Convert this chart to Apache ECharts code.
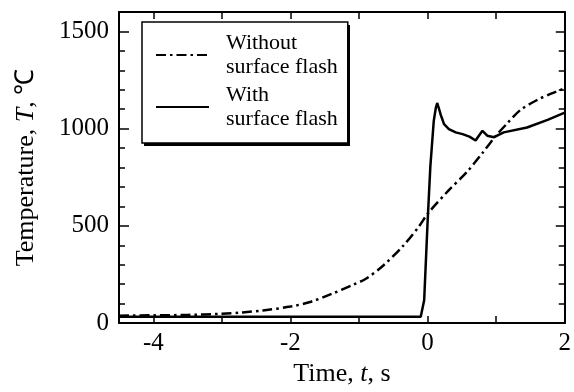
<!DOCTYPE html>
<html lang="en">
  <head>
    <meta charset="utf-8" />
    <title>Temperature with and without surface flash</title>
    <script src="https://cdn.jsdelivr.net/npm/echarts@6/dist/echarts.min.js"></script>
  </head>
  <style>
    * {
      margin: 0;
      padding: 0;
    }

    body {
      width: 574px;
      height: 392px;
      background: #fff;
    }

    #main {
      width: 574px;
      height: 392px;
    }
  </style>
  <body>
    <div id="main"></div>
    <script>
      // values
      const timeWithout = [-4.5, -4, -3.5, -3, -2.7, -2.4, -2, -1.7, -1.4, -1.1, -0.9, -0.65, -0.35, -0.12, 0, 0.3, 0.58, 0.8, 1.0, 1.15, 1.35, 1.6, 1.8, 2];
      const tempWithout = [38, 40, 42, 48, 55, 65, 85, 110, 150, 195, 228, 295, 400, 500, 562, 680, 780, 875, 965, 1023, 1095, 1148, 1180, 1207];

      const timeWith = [-4.5, -3.5, -2.5, -1.5, -0.5, -0.1, -0.08, -0.05, 0, 0.04, 0.09, 0.12, 0.14, 0.16, 0.19, 0.24, 0.31, 0.41, 0.51, 0.61, 0.7, 0.74, 0.8, 0.87, 0.97, 1.11, 1.45, 1.75, 2];
      const tempWith = [33, 33, 33, 33, 33, 33, 40, 117, 520, 805, 1040, 1107, 1132, 1110, 1073, 1023, 998, 981, 972, 959, 939, 960, 989, 964, 956, 981, 1006, 1045, 1082];

      const seriesNames = ["Without\nsurface flash", "With\nsurface flash"];
      const xLabels = [-4, -2, 0, 2];
      const yLabels = [0, 500, 1000, 1500];

      const font = "Liberation Serif";
      const chart = echarts.init(document.getElementById("main"));

      function pairs(xs, ys) {
        return xs.map((x, i) => [x, ys[i]]);
      }

      function xAxisOf(position, withLabels) {
        return {
          type: "value",
          position: position,
          min: -4.5,
          max: 2,
          splitNumber: 6,
          splitLine: { show: false },
          axisLine: { show: true, onZero: false, lineStyle: { color: "#000", width: 2 } },
          axisTick: { show: true, inside: true, length: 7, lineStyle: { color: "#000", width: 1.5 } },
          axisLabel: {
            show: withLabels,
            margin: 8,
            color: "#000",
            fontFamily: font,
            fontSize: 25,
            formatter: (v) => (xLabels.includes(v) ? String(v) : ""),
          },
        };
      }

      function yAxisOf(position, step, tickLen, withLine, withLabels) {
        return {
          type: "value",
          position: position,
          min: 0,
          max: 1600,
          interval: step,
          splitLine: { show: false },
          axisLine: { show: withLine, onZero: false, lineStyle: { color: "#000", width: 2 } },
          axisTick: { show: true, inside: true, length: tickLen, lineStyle: { color: "#000", width: 1.5 } },
          axisLabel: {
            show: withLabels,
            margin: 10,
            color: "#000",
            fontFamily: font,
            fontSize: 25,
            formatter: (v) => (yLabels.includes(v) ? String(v) : ""),
          },
        };
      }

      const titleRich = {
        a: { fontFamily: font, fontSize: 26, color: "#000" },
        i: { fontFamily: font, fontSize: 26, color: "#000", fontStyle: "italic" },
      };

      const xMain = xAxisOf("bottom", true);
      xMain.name = "{a|Time, }{i|t}{a|, s}";
      xMain.nameLocation = "middle";
      xMain.nameGap = 32;
      xMain.nameTextStyle = { rich: titleRich };

      const yMain = yAxisOf("left", 500, 10, true, true);
      yMain.name = "{a|Temperature, }{i|T}{a|, ℃}";
      yMain.nameLocation = "middle";
      yMain.nameGap = 80;
      yMain.nameTextStyle = { rich: titleRich };

      const option = {
        animation: false,
        // offset black box behind the legend gives its heavy lower/right edge
        graphic: [
          {
            type: "rect",
            left: 144,
            top: 25,
            shape: { width: 206, height: 121 },
            style: { fill: "#000" },
            z: 1,
          },
        ],
        grid: { left: 119, right: 6, top: 12, bottom: 62 },
        legend: {
          orient: "vertical",
          left: 142,
          top: 22,
          padding: [9, 10, 12, 13],
          itemGap: 4,
          itemWidth: 53,
          itemHeight: 20,
          borderColor: "#000",
          borderWidth: 1.5,
          backgroundColor: "#fff",
          itemStyle: { opacity: 0, color: "rgba(0,0,0,0)", borderWidth: 0 },
          textStyle: {
            fontFamily: font,
            fontSize: 22,
            lineHeight: 24,
            color: "#000",
            padding: [0, 0, 0, 12],
          },
          z: 5,
          data: seriesNames,
        },
        xAxis: [xMain, xAxisOf("top", false)],
        yAxis: [
          yMain,
          yAxisOf("left", 100, 6, false, false),
          yAxisOf("right", 500, 9, true, false),
          yAxisOf("right", 100, 6, false, false),
        ],
        series: [
          {
            name: seriesNames[0],
            type: "line",
            xAxisIndex: 0,
            yAxisIndex: 0,
            data: pairs(timeWithout, tempWithout),
            smooth: 0.3,
            symbol: "none",
            color: "#000",
            lineStyle: { color: "#000", width: 2.5, type: [10, 4, 2.5, 4] },
          },
          {
            name: seriesNames[1],
            type: "line",
            xAxisIndex: 0,
            yAxisIndex: 0,
            data: pairs(timeWith, tempWith),
            symbol: "none",
            color: "#000",
            lineStyle: { color: "#000", width: 2.5 },
          },
        ],
      };

      chart.setOption(option);
    </script>
  </body>
</html>
